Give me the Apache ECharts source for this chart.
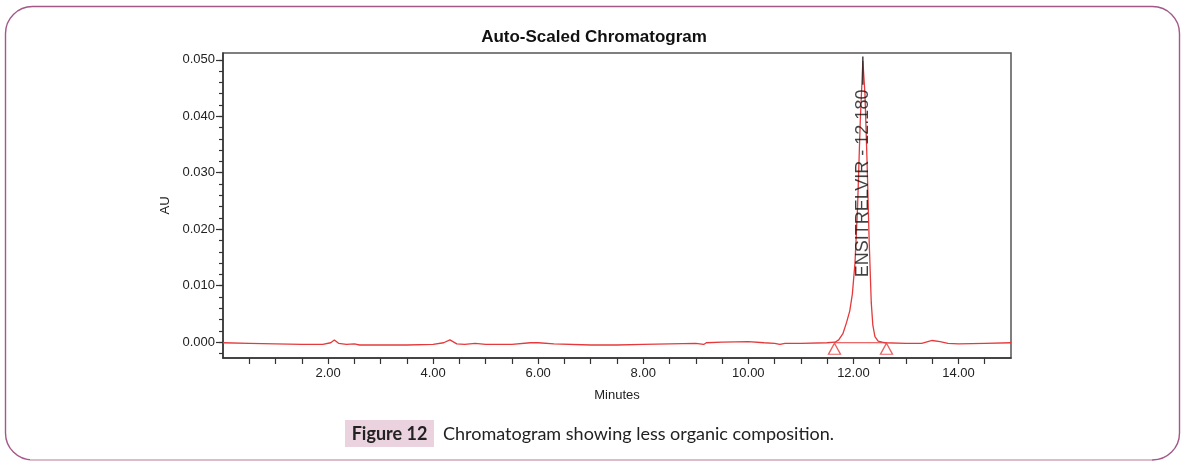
<!DOCTYPE html>
<html>
<head>
<meta charset="utf-8">
<script src="https://cdn.jsdelivr.net/npm/echarts@6/dist/echarts.min.js"></script>
<style>
html,body{margin:0;padding:0;background:#fff;}
#chart{width:1191px;height:470px;}
</style>
</head>
<body>
<div id="chart"></div>
<script>
// ---- data (minutes, AU) ----
const times = [0.00,0.50,1.00,1.50,1.90,2.05,2.12,2.20,2.35,2.50,2.60,3.00,3.50,4.00,4.20,4.32,4.45,4.60,4.80,5.00,5.50,5.85,6.00,6.30,7.00,7.50,8.00,8.50,9.00,9.15,9.20,9.50,10.00,10.30,10.50,10.60,10.70,11.00,11.50,11.65,11.72,11.80,11.87,11.93,11.98,12.03,12.08,12.13,12.18,12.22,12.26,12.30,12.34,12.37,12.41,12.47,12.55,12.60,13.00,13.30,13.50,13.65,13.80,14.00,14.50,15.00];
const absorbance = [-0.0001,-0.0002,-0.0003,-0.0004,-0.0004,-0.0001,0.0004,-0.0002,-0.0004,-0.0003,-0.0005,-0.0005,-0.0005,-0.0004,-0.0001,0.0004,-0.0003,-0.0004,-0.0002,-0.0004,-0.0004,-0.0001,-0.0001,-0.0003,-0.0005,-0.0005,-0.0004,-0.0003,-0.0002,-0.0004,-0.0001,0.0000,0.0001,-0.0001,-0.0002,-0.0004,-0.0002,-0.0002,-0.0001,0.0000,0.0004,0.0015,0.0035,0.0055,0.0085,0.0140,0.0240,0.0390,0.0498,0.0440,0.0320,0.0180,0.0070,0.0030,0.0010,0.0002,0.0000,-0.0001,-0.0002,-0.0002,0.0003,0.0001,-0.0002,-0.0003,-0.0002,-0.0001];
const peakName = "ENSITRELVIR";
const peakTime = 12.18;
const peakStart = 11.64;
const peakEnd = 12.63;
const baselineLevel = -0.0001;
const xLabelTicks = [2,4,6,8,10,12,14];
const xMinorTicks = [0.5,1,1.5,2,2.5,3,3.5,4,4.5,5,5.5,6,6.5,7,7.5,8,8.5,9,9.5,10,10.5,11,11.5,12,12.5,13,13.5,14,14.5];
const yLabelTicks = [0,0.01,0.02,0.03,0.04,0.05];
const yMinorTicks = [-0.002,0,0.002,0.004,0.006,0.008,0.010,0.012,0.014,0.016,0.018,0.020,0.022,0.024,0.026,0.028,0.030,0.032,0.034,0.036,0.038,0.040,0.042,0.044,0.046,0.048,0.050];

const chart = echarts.init(document.getElementById('chart'), null, {renderer:'canvas'});
const trace = times.map((t,i)=>[t, absorbance[i]]);
const axisColor = '#333';
const font = 'Liberation Sans, Arial, sans-serif';
const yMin = -0.0028, yMax = 0.0512;

const option = {
  animation:false,
  backgroundColor:'#fff',
  title:{
    text:'Auto-Scaled Chromatogram',
    left:589, top:24, textAlign:'center',
    textStyle:{fontFamily:font,fontWeight:'bold',fontSize:17,color:'#111'}
  },
  grid:{left:223,right:180,top:53,bottom:112,show:true,borderColor:'#555',borderWidth:1.5,backgroundColor:'transparent'},
  xAxis:[{
    type:'value',min:0,max:15,
    name:'Minutes',nameLocation:'middle',nameGap:31,
    nameTextStyle:{fontFamily:font,fontSize:13,color:'#222'},
    axisLine:{show:true,onZero:false,lineStyle:{color:axisColor,width:1.5}},
    axisTick:{show:true,length:6,customValues:xMinorTicks,lineStyle:{color:axisColor,width:1.2}},
    axisLabel:{customValues:xLabelTicks,formatter:v=>v.toFixed(2),fontFamily:font,fontSize:13,color:'#222',margin:9},
    splitLine:{show:false}
  }],
  yAxis:[{
    type:'value',min:yMin,max:yMax,
    name:'AU',nameLocation:'middle',nameGap:40,
    nameTextStyle:{fontFamily:font,fontSize:13,color:'#222'},
    axisLine:{show:true,onZero:false,lineStyle:{color:axisColor,width:1.5}},
    axisTick:{show:true,length:7,customValues:yLabelTicks,lineStyle:{color:axisColor,width:1.2}},
    axisLabel:{customValues:yLabelTicks,formatter:v=>v.toFixed(3),fontFamily:font,fontSize:13,color:'#222',margin:8},
    splitLine:{show:false}
  },{
    type:'value',min:yMin,max:yMax,position:'left',
    axisLine:{show:false,onZero:false},
    axisTick:{show:true,length:4,customValues:yMinorTicks,lineStyle:{color:axisColor,width:1.2}},
    axisLabel:{show:false},
    splitLine:{show:false}
  }],
  series:[
    {type:'line',data:trace,showSymbol:false,symbol:'none',silent:true,
     lineStyle:{color:'#e53a3c',width:1.3},z:3},
    {type:'line',data:[[peakStart,baselineLevel],[peakEnd,baselineLevel]],symbol:'none',silent:true,
     lineStyle:{color:'#e53a3c',width:1.1},z:3},
    {type:'scatter',data:[[peakStart,baselineLevel],[peakEnd,baselineLevel]],symbol:'triangle',symbolSize:[12,11],symbolOffset:[0,6],
     itemStyle:{color:'#fff',borderColor:'#e53a3c',borderWidth:1.3},z:4,silent:true},
    {type:'line',data:[[peakTime,0.0506],[peakTime,0.0456]],symbol:'none',silent:true,
     lineStyle:{color:'#222',width:1.3},z:5},
    {type:'scatter',data:[[peakTime,0.0281]],symbolSize:0,silent:true,z:6,
     label:{show:true,position:'inside',rotate:90,formatter:peakName+' - '+peakTime.toFixed(3),
       fontFamily:font,fontSize:18,color:'#111'}}
  ],
  graphic:[
    {type:'rect',shape:{x:5.5,y:6.5,width:1174,height:453.5,r:27},style:{fill:'none',stroke:'#a3588a',lineWidth:1.4},silent:true},
    {type:'line',shape:{x1:30,y1:460,x2:1152,y2:460},style:{stroke:'#dcbcca',lineWidth:2},silent:true},
    {type:'rect',shape:{x:345,y:420,width:89,height:27},style:{fill:'#ead3df'},silent:true},
    {type:'text',x:389.5,y:434,style:{text:'Figure 12',fontFamily:'Lato, "Open Sans", sans-serif',fontWeight:'bold',fontSize:18,fill:'#222',align:'center',verticalAlign:'middle'},silent:true},
    {type:'text',x:443,y:434,style:{text:'Chromatogram showing less organic composition.',fontFamily:'Lato, "Open Sans", sans-serif',fontSize:18,fill:'#222',align:'left',verticalAlign:'middle'},silent:true}
  ]
};
chart.setOption(option);
</script>
</body>
</html>
